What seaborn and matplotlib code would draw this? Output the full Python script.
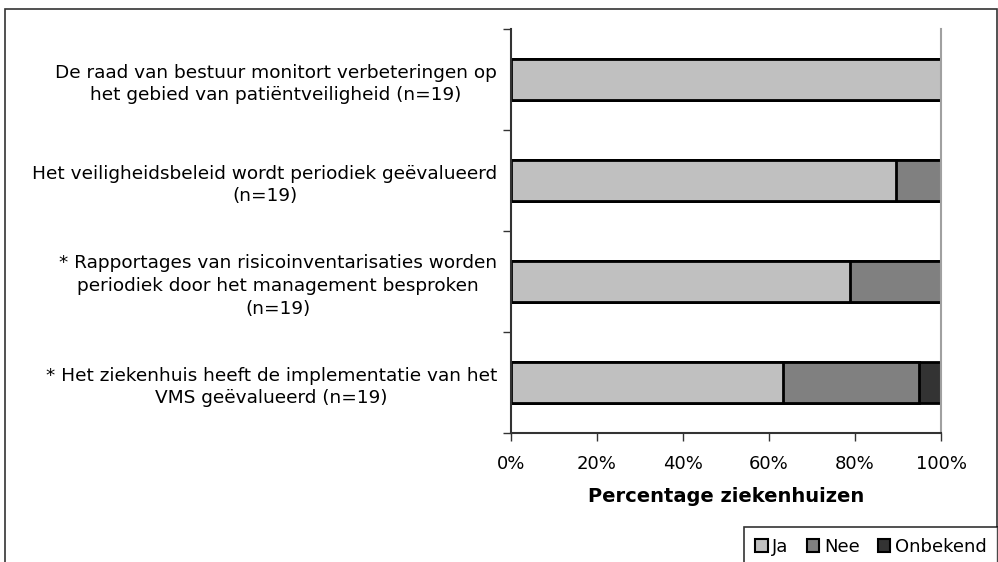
import numpy as np
import pandas as pd
import matplotlib
matplotlib.use('Agg')
import matplotlib.pyplot as plt
from matplotlib.patches import Patch, Rectangle
import seaborn as sns

statements = ['De raad van bestuur monitort verbeteringen op\nhet gebied van patiëntveiligheid (n=19)',
              'Het veiligheidsbeleid wordt periodiek geëvalueerd\n(n=19)',
              '* Rapportages van risicoinventarisaties worden\nperiodiek door het management besproken\n(n=19)',
              '* Het ziekenhuis heeft de implementatie van het\nVMS geëvalueerd (n=19)']
ja = [100.0, 89.5, 78.9, 63.2]
nee = [0.0, 10.5, 21.1, 31.6]
onbekend = [0.0, 0.0, 0.0, 5.3]
categories = ['Ja', 'Nee', 'Onbekend']
colours = ['#c0c0c0', '#808080', '#333333']

df = pd.DataFrame({'stelling': statements, 'Ja': ja, 'Nee': nee, 'Onbekend': onbekend})
# cumulative ends for stacking (draw longest first)
df['c_ja'] = df['Ja']
df['c_nee'] = df['Ja'] + df['Nee']
df['c_onb'] = df['c_nee'] + df['Onbekend']

sns.set_style('white')
plt.rcParams['font.family'] = ['DejaVu Sans']
plt.rcParams['text.color'] = 'black'
plt.rcParams['xtick.color'] = 'black'
plt.rcParams['ytick.color'] = 'black'
plt.rcParams['axes.labelcolor'] = 'black'

fig = plt.figure(figsize=(9.98, 5.62), dpi=100)
ax = fig.add_axes([0.512, 0.2295, 0.431, 0.7189])

for col, c in zip(['c_onb', 'c_nee', 'c_ja'], colours[::-1]):
    sns.barplot(data=df, x=col, y='stelling', orient='h', color=c, saturation=1,
                width=0.4, edgecolor='black', linewidth=2, ax=ax)

ax.set_xlim(0, 100)
ax.set_ylim(3.5, -0.5)
ax.set_xticks([0, 20, 40, 60, 80, 100])
ax.set_xticklabels(['0%', '20%', '40%', '60%', '80%', '100%'], fontsize=13)
ax.set_xlabel('Percentage ziekenhuizen', fontsize=14, fontweight='bold', labelpad=10)
ax.set_ylabel('')
ax.set_yticks(range(4))
ax.set_yticklabels(statements, fontsize=13.3, multialignment='center', linespacing=1.35)
ax.tick_params(axis='y', which='major', length=0, pad=10)
ax.set_yticks(np.arange(-0.5, 4.0, 1.0), minor=True)
ax.tick_params(axis='y', which='minor', direction='out', length=6, width=1, color='#333333', left=True)
ax.tick_params(axis='x', direction='out', length=6, width=1, color='#333333', bottom=True, pad=10)

ax.spines['top'].set_visible(False)
ax.spines['right'].set_color('#a0a0a0')
ax.spines['right'].set_linewidth(1.5)
for s in ['left', 'bottom']:
    ax.spines[s].set_color('#333333')
    ax.spines[s].set_linewidth(1.5)

handles = [Patch(facecolor=c, edgecolor='black', linewidth=1.5, label=l) for c, l in zip(colours, categories)]
leg = fig.legend(handles=handles, loc='lower right', bbox_to_anchor=(0.9995, -0.008), ncol=3,
                 fontsize=13, frameon=True, fancybox=False, handlelength=0.7, handleheight=0.7,
                 handletextpad=0.25, columnspacing=1.0, borderpad=0.6, borderaxespad=0)
leg.get_frame().set_edgecolor('black')
leg.get_frame().set_linewidth(1.2)

fig.patches.append(Rectangle((0.005, -0.1), 0.9985 - 0.005, 0.984 + 0.1, transform=fig.transFigure,
                             fill=False, edgecolor='#333333', linewidth=1.2))

fig.savefig('out.png', dpi=100)
